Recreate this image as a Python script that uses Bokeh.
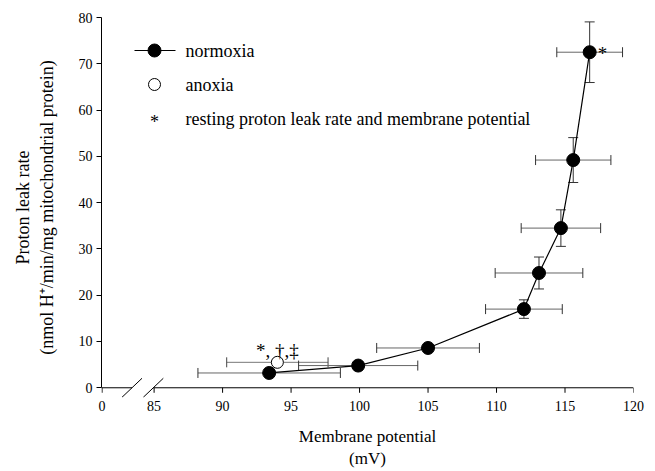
from bokeh.plotting import figure
from bokeh.models import Range1d, FixedTicker, Whisker, ColumnDataSource, Label, TeeHead
from bokeh.embed import file_html
from bokeh.resources import INLINE

# ---------------- data ----------------
normoxia_mv = [93.4, 99.9, 105.0, 112.0, 113.1, 114.7, 115.6, 116.8]
normoxia_leak = [3.2, 4.8, 8.6, 17.0, 24.8, 34.5, 49.2, 72.5]
normoxia_mv_err = [5.2, 4.35, 3.75, 2.8, 3.2, 2.9, 2.75, 2.4]
normoxia_leak_err = [0.4, 0.5, 0.8, 2.0, 3.45, 3.95, 4.85, 6.55]

anoxia_mv = [94.0]
anoxia_leak = [5.5]
anoxia_mv_err = [3.7]
anoxia_leak_err = [0.4]

x_ticks = [81.2, 85, 90, 95, 100, 105, 110, 115, 120]
x_tick_labels = ["0", "85", "90", "95", "100", "105", "110", "115", "120"]
y_ticks = [0, 10, 20, 30, 40, 50, 60, 70, 80]

legend_labels = ["normoxia", "anoxia", "resting proton leak rate and membrane potential"]
anoxia_note = "*, \u2020,\u2021"
resting_mark = "*"

FONT = "Liberation Serif"

X0, X1 = x_ticks[0] - 0.04, x_ticks[-1]
Y0, Y1 = -2.1, 80
W, H = 655, 471
BL, BR, BT, BB = 101, 22, 17, 74

p = figure(width=W, height=H, output_backend="svg", toolbar_location=None,
           x_range=Range1d(X0, X1), y_range=Range1d(Y0, Y1),
           min_border_left=BL, min_border_right=BR, min_border_top=BT, min_border_bottom=BB)
p.outline_line_color = None
p.xgrid.visible = False
p.ygrid.visible = False
p.background_fill_color = "white"
p.border_fill_color = "white"

fw = W - BL - BR
fh = H - BT - BB
def px2x(px):
    return X0 + (px - BL) / fw * (X1 - X0)
def py2y(py):
    return Y0 + (H - BB - py) / fh * (Y1 - Y0)
def dpx_y(d):
    return d / fh * (Y1 - Y0)
def dpx_x(d):
    return d / fw * (X1 - X0)

# axes
for ax in (p.xaxis[0], p.yaxis[0]):
    ax.axis_line_color = "black"
    ax.axis_line_width = 1
    ax.major_tick_line_color = "black"
    ax.major_tick_out = 5
    ax.major_tick_in = 0
    ax.minor_tick_line_color = None
    ax.major_label_text_font = FONT
    ax.major_label_text_font_size = "14px"
    ax.major_label_text_color = "black"
    ax.axis_label_text_font = FONT
    ax.axis_label_text_font_style = "normal"
    ax.axis_label_text_color = "black"

# x axis: labels from the axis; its line (with the break) is drawn at y = 0 below
p.xaxis.ticker = FixedTicker(ticks=x_ticks)
p.xaxis.major_label_overrides = {t: l for t, l in zip(x_ticks, x_tick_labels)}
p.xaxis.axis_line_color = None
p.xaxis.major_tick_line_color = None
p.xaxis.major_tick_out = 0
p.xaxis.major_label_standoff = 3
p.xaxis.axis_label = "Membrane potential\n(mV)"
p.xaxis.axis_label_standoff = 13
p.xaxis.axis_label_text_font_size = "17px"

p.yaxis.bounds = (0, 80)
p.yaxis.ticker = FixedTicker(ticks=y_ticks)
p.yaxis.major_label_standoff = 4
p.yaxis.axis_label = "Proton leak rate\n(nmol H\u207A/min/mg mitochondrial protein)"
p.yaxis.axis_label_standoff = 19
p.yaxis.axis_label_text_font_size = "18px"

# x axis line with break, ticks and break marks
brk_a, brk_b = px2x(131.5), px2x(152.8)
p.segment(x0=[X0, brk_b], y0=[0, 0], x1=[brk_a, X1], y1=[0, 0], line_color="black", line_width=1)
p.segment(x0=x_ticks, y0=[0] * len(x_ticks), x1=x_ticks, y1=[-dpx_y(5)] * len(x_ticks),
          line_color="black", line_width=1)
hx, hy = dpx_x(10), dpx_y(9.5)
p.segment(x0=[brk_a - hx, brk_b - hx], y0=[-hy, -hy], x1=[brk_a + hx, brk_b + hx], y1=[hy, hy],
          line_color="black", line_width=1)

# error bars
nsrc = ColumnDataSource(dict(
    x=normoxia_mv, y=normoxia_leak,
    xl=[a - b for a, b in zip(normoxia_mv, normoxia_mv_err)],
    xu=[a + b for a, b in zip(normoxia_mv, normoxia_mv_err)],
    yl=[a - b for a, b in zip(normoxia_leak, normoxia_leak_err)],
    yu=[a + b for a, b in zip(normoxia_leak, normoxia_leak_err)],
))
asrc = ColumnDataSource(dict(
    x=anoxia_mv, y=anoxia_leak,
    xl=[a - b for a, b in zip(anoxia_mv, anoxia_mv_err)],
    xu=[a + b for a, b in zip(anoxia_mv, anoxia_mv_err)],
    yl=[a - b for a, b in zip(anoxia_leak, anoxia_leak_err)],
    yu=[a + b for a, b in zip(anoxia_leak, anoxia_leak_err)],
))

def add_err(src, hcol, ccol):
    p.add_layout(Whisker(source=src, base="y", lower="xl", upper="xu", dimension="width",
                         line_color=hcol, line_width=1,
                         lower_head=TeeHead(size=10, line_color=ccol, line_width=1),
                         upper_head=TeeHead(size=10, line_color=ccol, line_width=1),
                         level="underlay"))
    p.add_layout(Whisker(source=src, base="x", lower="yl", upper="yu", dimension="height",
                         line_color=ccol, line_width=1,
                         lower_head=TeeHead(size=10, line_color=ccol, line_width=1),
                         upper_head=TeeHead(size=10, line_color=ccol, line_width=1),
                         level="underlay"))

add_err(asrc, "#777777", "#444444")
add_err(nsrc, "#666666", "#333333")

p.line("x", "y", source=nsrc, line_color="black", line_width=1.2)
p.scatter("x", "y", source=nsrc, size=13, fill_color="black", line_color="black", fill_alpha=1.0)
p.scatter("x", "y", source=asrc, size=12, fill_color="white", line_color="black", line_width=1)

# annotations
p.add_layout(Label(x=anoxia_mv[0], y=anoxia_leak[0], text=anoxia_note, text_align="center",
                   text_baseline="alphabetic", y_offset=12, text_font=FONT, text_font_size="19px",
                   text_color="black"))
p.add_layout(Label(x=normoxia_mv[-1], y=normoxia_leak[-1], text=resting_mark, text_align="left",
                   text_baseline="middle", x_offset=8, y_offset=-1, text_font=FONT, text_font_size="19px",
                   text_color="black"))

# manual legend
ly = [py2y(50), py2y(84), py2y(118)]
lx_sym = px2x(154)
lx_text = px2x(185)
p.line([px2x(134), px2x(175)], [ly[0], ly[0]], line_color="black", line_width=1)
p.scatter([lx_sym], [ly[0]], size=13, fill_color="black", line_color="black")
p.scatter([lx_sym], [ly[1]], size=12, fill_color="white", line_color="black")
p.add_layout(Label(x=lx_sym, y=ly[2], text="*", text_align="center", text_baseline="middle",
                   y_offset=-3, text_font=FONT, text_font_size="18px", text_color="black"))
for yy, t in zip(ly, legend_labels):
    p.add_layout(Label(x=lx_text, y=yy, text=t, text_align="left", text_baseline="middle",
                       text_font=FONT, text_font_size="18px", text_color="black"))

open("out.html", "w").write(file_html(p, INLINE))
